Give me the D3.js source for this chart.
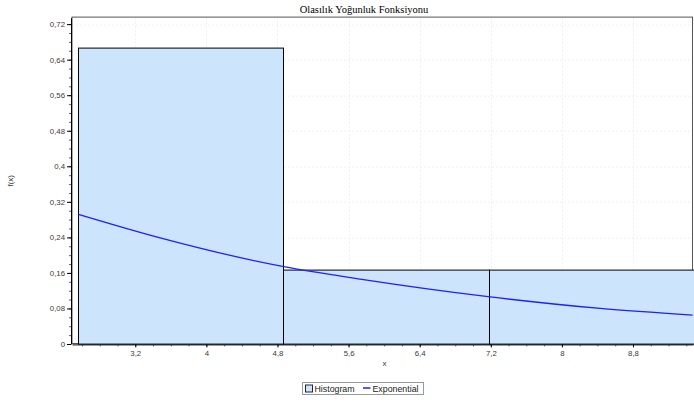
<!DOCTYPE html>
<html>
<head>
<meta charset="utf-8">
<script src="https://cdn.jsdelivr.net/npm/d3@7"></script>
<style>
  body { margin: 0; background: #fff; }
  svg { display: block; }
  .tick text { font-family: 'Liberation Sans', Arial, sans-serif; font-size: 7.8px; fill: #3a3a3a; }
</style>
</head>
<body>
<svg id="chart" width="694" height="402"></svg>
<script>
// histogram bins (edges) and relative frequencies
const binEdges = [2.56, 4.86, 7.18, 9.49];
const binValues = [0.6667, 0.1667, 0.1667];

// exponential fit
const curveX = [2.56, 3.48, 4.87, 5.73, 7.17, 8.43, 9.47];
const curveY = [0.292, 0.239, 0.174, 0.146, 0.1065, 0.080, 0.065];

const xTicks = [3.2, 4, 4.8, 5.6, 6.4, 7.2, 8, 8.8];
const yTicks = [0, 0.08, 0.16, 0.24, 0.32, 0.4, 0.48, 0.56, 0.64, 0.72];
const xMinor = d3.range(2.6, 9.5, 0.2);
const yMinor = d3.range(0, 0.735, 0.02);

const margin = {
  top: 17.6,
  right: 1,
  bottom: 58,
  left: 72,
};

const width = 694;
const height = 402;
const actualWidth = width - margin.left - margin.right;
const actualHeight = height - margin.top - margin.bottom;

const locale = d3.formatLocale({ decimal: ',', thousands: '.', grouping: [3], currency: ['', ''] });
const fmt = locale.format('~g');

const svg = d3.select('#chart');
const g = svg.append('g')
  .attr('transform', 'translate(' + margin.left + ',' + margin.top + ')');

const x = d3.scaleLinear()
  .domain([2.488, 9.475])
  .range([0, actualWidth]);

const y = d3.scaleLinear()
  .domain([0, 0.7347])
  .range([actualHeight, 0]);

// grid
g.append('g').selectAll('line.gx')
  .data(xTicks)
  .enter().append('line')
  .attr('x1', function(d) { return Math.round(x(d)) + 0.5; })
  .attr('x2', function(d) { return Math.round(x(d)) + 0.5; })
  .attr('y1', 0)
  .attr('y2', actualHeight)
  .attr('stroke', '#f0f0f0')
  .attr('stroke-dasharray', '2,2');

g.append('g').selectAll('line.gy')
  .data(yTicks)
  .enter().append('line')
  .attr('y1', function(d) { return Math.round(y(d)) + 0.5; })
  .attr('y2', function(d) { return Math.round(y(d)) + 0.5; })
  .attr('x1', 0)
  .attr('x2', actualWidth)
  .attr('stroke', '#f0f0f0')
  .attr('stroke-dasharray', '2,2');

// plot outline
g.append('rect')
  .attr('x', 0)
  .attr('y', -0.5)
  .attr('width', actualWidth - 0.5)
  .attr('height', actualHeight)
  .attr('fill', 'none')
  .attr('stroke', '#555');

// histogram
g.selectAll('.bar')
  .data(binValues)
  .enter().append('rect')
  .attr('class', 'bar')
  .attr('x', function(d, i) { return Math.round(x(binEdges[i])) + 0.5; })
  .attr('width', function(d, i) { return Math.round(x(binEdges[i + 1])) - Math.round(x(binEdges[i])); })
  .attr('y', function(d) { return Math.round(y(d)) + 0.5; })
  .attr('height', function(d) { return Math.round(actualHeight - y(d)); })
  .attr('fill', '#cce4fc')
  .attr('stroke', '#000')
  .attr('stroke-width', 1);

// exponential line
const line = d3.line()
  .x(function(d, i) { return x(curveX[i]); })
  .y(function(d) { return y(d); })
  .curve(d3.curveMonotoneX);

g.append('path')
  .datum(curveY)
  .attr('d', line)
  .attr('fill', 'none')
  .attr('stroke', '#1f1fff')
  .attr('stroke-width', 1.3);

// axes
const xAxis = d3.axisBottom(x)
  .tickValues(xTicks)
  .tickFormat(fmt)
  .tickSize(3)
  .tickPadding(3)
  .tickSizeOuter(0);

const xMinorAxis = d3.axisBottom(x)
  .tickValues(xMinor)
  .tickFormat('')
  .tickSize(2)
  .tickSizeOuter(0);

g.append('g')
  .attr('transform', 'translate(0,' + (actualHeight + 0.4) + ')')
  .call(xMinorAxis)
  .call(function(s) { s.selectAll('line').attr('stroke', '#666'); s.select('.domain').remove(); });

g.append('g')
  .attr('class', 'x axis')
  .attr('transform', 'translate(0,' + (actualHeight + 0.4) + ')')
  .call(xAxis);

const yAxis = d3.axisLeft(y)
  .tickValues(yTicks)
  .tickFormat(fmt)
  .tickSize(4)
  .tickPadding(2)
  .tickSizeOuter(0);

const yMinorAxis = d3.axisLeft(y)
  .tickValues(yMinor)
  .tickFormat('')
  .tickSize(2)
  .tickSizeOuter(0);

g.append('g')
  .attr('transform', 'translate(-1,0)')
  .call(yMinorAxis)
  .call(function(s) { s.selectAll('line').attr('stroke', '#666'); s.select('.domain').remove(); });

g.append('g')
  .attr('class', 'y axis')
  .attr('transform', 'translate(-1,0)')
  .call(yAxis);

svg.selectAll('.domain').attr('stroke', '#000');

// title and axis labels
svg.append('text')
  .attr('x', width / 2 + 17)
  .attr('y', 13)
  .attr('text-anchor', 'middle')
  .style('font-family', "'Liberation Serif', 'Times New Roman', serif")
  .style('font-size', '10.5px')
  .attr('fill', '#000')
  .text('Olasılık Yoğunluk Fonksiyonu');

svg.append('text')
  .attr('x', margin.left + actualWidth / 2 + 2)
  .attr('y', 366)
  .attr('text-anchor', 'middle')
  .style('font-family', "'Liberation Sans', Arial, sans-serif")
  .style('font-size', '8px')
  .attr('fill', '#3a3a3a')
  .text('x');

svg.append('text')
  .attr('transform', 'translate(13,' + (margin.top + actualHeight / 2) + ') rotate(-90)')
  .attr('text-anchor', 'middle')
  .style('font-family', "'Liberation Sans', Arial, sans-serif")
  .style('font-size', '8px')
  .attr('fill', '#3a3a3a')
  .text('f(x)');

// legend
const legend = svg.append('g')
  .attr('transform', 'translate(302.5,382.5)');

legend.append('rect')
  .attr('width', 121)
  .attr('height', 12)
  .attr('fill', '#fff')
  .attr('stroke', '#999');

legend.append('rect')
  .attr('x', 3)
  .attr('y', 2.5)
  .attr('width', 7)
  .attr('height', 7)
  .attr('fill', '#cce4fc')
  .attr('stroke', '#223');

legend.append('text')
  .attr('x', 12)
  .attr('y', 9)
  .style('font-family', "'Liberation Sans', Arial, sans-serif")
  .style('font-size', '8.8px')
  .attr('fill', '#222')
  .text('Histogram');

legend.append('line')
  .attr('x1', 60.5)
  .attr('x2', 68)
  .attr('y1', 5.5)
  .attr('y2', 5.5)
  .attr('stroke', '#1f1fff')
  .attr('stroke-width', 1.5);

legend.append('text')
  .attr('x', 70)
  .attr('y', 9)
  .style('font-family', "'Liberation Sans', Arial, sans-serif")
  .style('font-size', '8.8px')
  .attr('fill', '#222')
  .text('Exponential');
</script>
</body>
</html>
